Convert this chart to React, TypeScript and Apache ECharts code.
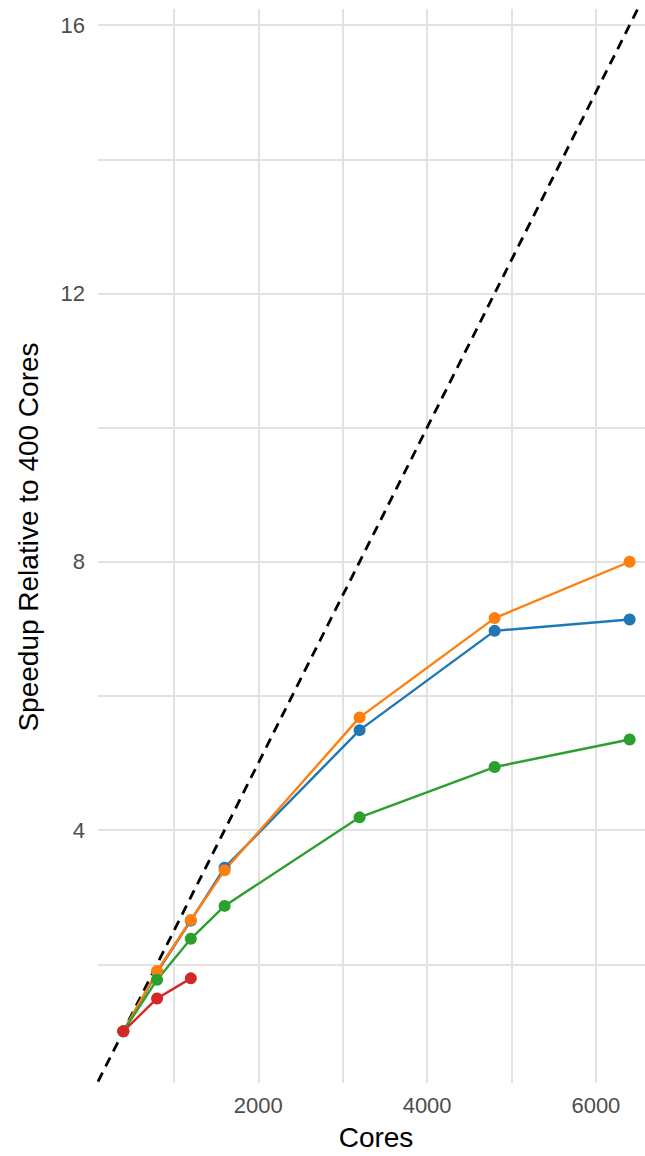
import React, { useEffect, useRef } from "react";
import * as echarts from "echarts";

const cores = [400, 800, 1200, 1600, 3200, 4800, 6400];
const blueSpeedup = [1, 1.88, 2.65, 3.44, 5.49, 6.97, 7.14];
const orangeSpeedup = [1, 1.9, 2.66, 3.4, 5.68, 7.16, 8.0];
const greenSpeedup = [1, 1.77, 2.38, 2.87, 4.19, 4.94, 5.35];
const redCores = [400, 800, 1200];
const redSpeedup = [1, 1.49, 1.79];
const idealCores = [100, 6700];
const baseCores = 400;

const xGridValues = [1000, 2000, 3000, 4000, 5000, 6000];
const xLabelValues = [2000, 4000, 6000];
const yGridValues = [2, 4, 6, 8, 10, 12, 14, 16];
const yLabelValues = [4, 8, 12, 16];

const FONT = "'Liberation Sans', Arial, Helvetica, sans-serif";

export default function App() {
  const ref = useRef<HTMLDivElement>(null);
  useEffect(() => {
    if (!ref.current) return;
    const chart = echarts.init(ref.current, undefined, { renderer: "svg" });
    const pts = (xs: number[], ys: number[]) => xs.map((x, i) => [x, ys[i]]);
    const mk = (name: string, color: string, xs: number[], ys: number[]) => ({
      name,
      type: "line",
      data: pts(xs, ys),
      symbol: "circle",
      symbolSize: 12,
      showSymbol: true,
      lineStyle: { color, width: 2.4 },
      itemStyle: { color },
      z: 3,
    });
    chart.setOption({
      animation: false,
      backgroundColor: "#ffffff",
      textStyle: { fontFamily: FONT },
      grid: { left: 98, top: 9, right: 0, bottom: 58, containLabel: false },
      xAxis: {
        type: "value",
        min: 100,
        max: 6582,
        name: "Cores",
        nameLocation: "middle",
        nameGap: 40,
        nameTextStyle: { fontSize: 28, color: "#000", fontFamily: FONT, padding: [0, 0, 0, 9] },
        axisLine: { show: false },
        axisTick: { show: false, customValues: xGridValues },
        axisLabel: {
          customValues: xLabelValues,
          formatter: (v: number) => String(v),
          fontSize: 22,
          color: "#4d4d4d",
          margin: 11,
          fontFamily: FONT,
        },
        splitLine: { show: true, lineStyle: { color: "#e2e2e2", width: 2 } },
      },
      yAxis: {
        type: "value",
        min: 0.23,
        max: 16.24,
        name: "Speedup Relative to 400 Cores",
        nameLocation: "middle",
        nameGap: 56,
        nameTextStyle: { fontSize: 28, color: "#000", fontFamily: FONT, padding: [0, 0, 0, 18] },
        axisLine: { show: false },
        axisTick: { show: false, customValues: yGridValues },
        axisLabel: {
          customValues: yLabelValues,
          formatter: (v: number) => String(v),
          fontSize: 22,
          color: "#4d4d4d",
          margin: 13,
          fontFamily: FONT,
        },
        splitLine: { show: true, lineStyle: { color: "#e2e2e2", width: 2 } },
      },
      series: [
        {
          name: "Ideal",
          type: "line",
          data: idealCores.map((c) => [c, c / baseCores]),
          symbol: "none",
          lineStyle: { color: "#000", width: 2.8, type: [10, 7] },
          z: 2,
        },
        mk("Blue", "#1f77b4", cores, blueSpeedup),
        mk("Orange", "#ff7f0e", cores, orangeSpeedup),
        mk("Green", "#2ca02c", cores, greenSpeedup),
        mk("Red", "#d62728", redCores, redSpeedup),
      ],
    });
    return () => chart.dispose();
  }, []);
  return (
    <div
      ref={ref}
      style={{ position: "fixed", left: 0, top: 0, width: 645, height: 1156, overflow: "hidden" }}
    />
  );
}
